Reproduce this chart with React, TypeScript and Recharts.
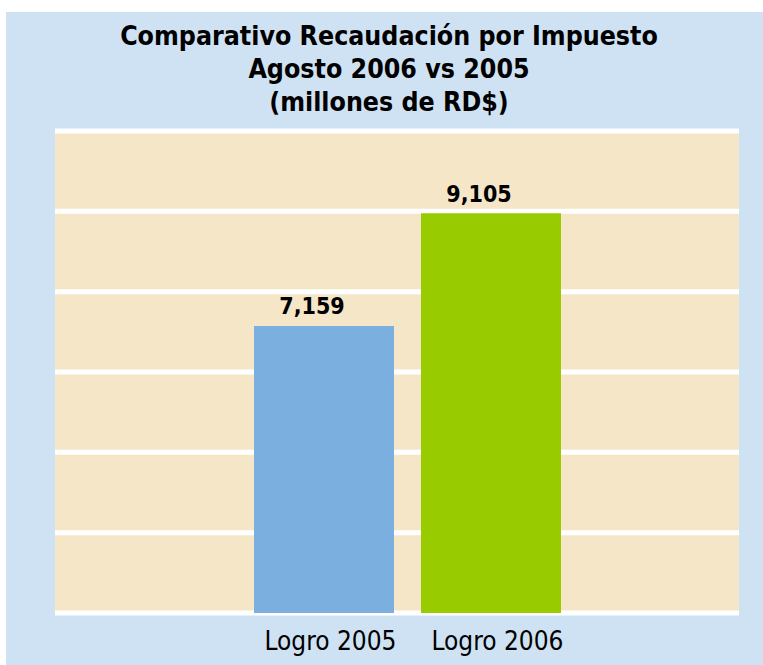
import React from "react";
import { BarChart, Bar, XAxis, YAxis, CartesianGrid, Cell, LabelList } from "recharts";

const TITLE_LINES = [
  "Comparativo Recaudación por Impuesto",
  "Agosto 2006 vs 2005",
  "(millones de RD$)",
];
const CATEGORIES = ["Logro 2005", "Logro 2006"];
const VALUES = [7159, 9105];
const COLORS = ["#7BAFDF", "#99CC00"];
const Y_DOMAIN: [number, number] = [2203, 10525];
const Y_TICKS = [2203, 3590, 4977, 6364, 7751, 9138, 10525];

const FONT = "'DejaVu Sans Condensed', 'DejaVu Sans', sans-serif";

const data = CATEGORIES.map((name, i) => ({ name, value: VALUES[i] }));

const fmt = (v: number) => v.toLocaleString("en-US");

const XTick = (props: any) => {
  const { x, y, payload } = props;
  return (
    <text x={x + 7} y={y + 28.7} textAnchor="middle" fontFamily={FONT} fontSize={26} fill="#000">
      {payload.value}
    </text>
  );
};

const YTick = () => <g />;

const ValueLabel = (props: any) => {
  const { x, y, width, value } = props;
  return (
    <text
      x={x + width / 2 - 12}
      y={y - 11.5}
      textAnchor="middle"
      fontFamily={FONT}
      fontWeight="bold"
      fontSize={23}
      fill="#000"
    >
      {fmt(value)}
    </text>
  );
};

export default function App() {
  return (
    <div style={{ position: "absolute", left: 0, top: 0, width: 763, height: 665, background: "#fff" }}>
      <div style={{ position: "absolute", left: 6, top: 12, width: 757, height: 653, background: "#CFE2F3" }} />
      <svg style={{ position: "absolute", left: 0, top: 0 }} width={763} height={130}>
        {TITLE_LINES.map((t, i) => (
          <text
            key={i}
            x={389}
            y={45 + i * 33}
            textAnchor="middle"
            fontFamily={FONT}
            fontWeight="bold"
            fontSize={26.5}
            fill="#000"
          >
            {t}
          </text>
        ))}
      </svg>
      <div style={{ position: "absolute", left: 0, top: 0 }}>
        <BarChart
          width={763}
          height={665}
          data={data}
          margin={{ top: 131, right: 24, bottom: 22, left: 55 }}
          barSize={140}
        >
          <CartesianGrid
            vertical={false}
            fill="#F5E6C8"
            stroke="#FFFFFF"
            strokeWidth={5}
            horizontalValues={Y_TICKS}
          />
          <XAxis
            dataKey="name"
            height={30}
            axisLine={false}
            tickLine={false}
            padding={{ left: 185, right: 165 }}
            tick={<XTick />}
            interval={0}
          />
          <YAxis
            width={0}
            domain={Y_DOMAIN}
            ticks={Y_TICKS}
            tick={<YTick />}
            axisLine={false}
            tickLine={false}
            allowDataOverflow
          />
          <Bar dataKey="value" isAnimationActive={false}>
            {data.map((d, i) => (
              <Cell key={d.name} fill={COLORS[i]} />
            ))}
            <LabelList dataKey="value" content={<ValueLabel />} />
          </Bar>
        </BarChart>
      </div>
    </div>
  );
}
